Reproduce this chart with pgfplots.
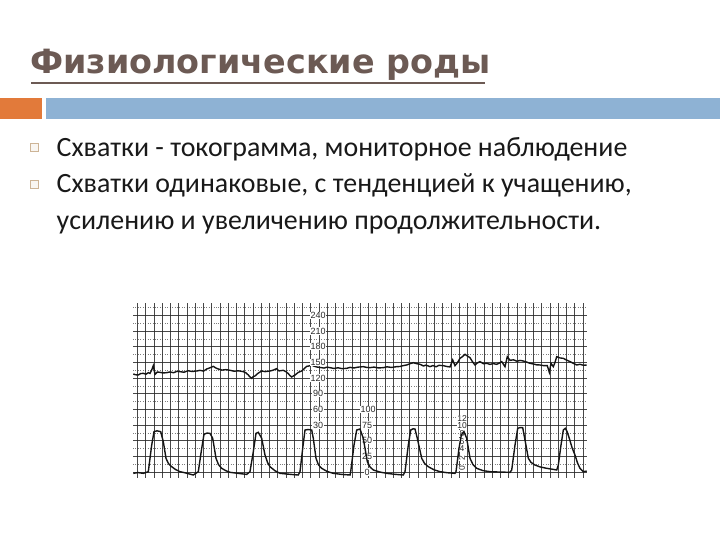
\documentclass[border=0pt]{standalone}
\usepackage{pgfplots}
\pgfplotsset{compat=1.18}
\usepackage{fontspec}
\setmainfont{Carlito}
\newfontfamily\labfont{Liberation Sans}
\newfontfamily\titlefont{DejaVu Sans}
\definecolor{titlec}{RGB}{108,90,84}
\definecolor{orangebar}{RGB}{226,122,58}
\definecolor{bluebar}{RGB}{142,178,212}
\definecolor{textc}{RGB}{25,25,25}
\definecolor{bulletc}{RGB}{205,180,150}
\definecolor{trace}{RGB}{20,20,20}
\definecolor{gridc}{RGB}{40,40,40}
\tikzset{
  lab/.style={fill=white, inner sep=0.6pt, text=gridc, font=\labfont\fontsize{9bp}{9bp}\selectfont},
  labs/.style={fill=white, inner sep=0.3pt, text=gridc, font=\labfont\fontsize{8.5bp}{8.5bp}\selectfont},
}

\pgfplotstableread{
x fhr
133.3 127.7
135.5 126.2
138.3 125.7
140.5 128.4
143.3 128.9
146.0 127.3
148.3 130.2
150.0 128.8
151.7 135.3
153.3 143.6
155.0 127.0
157.5 131.5
160.0 130.8
163.0 129.6
166.7 130.2
170.0 131.6
173.5 130.1
177.0 132.8
180.0 132.1
184.0 131.0
188.0 133.9
192.0 132.4
196.7 133.4
200.0 134.6
203.5 133.2
206.7 137.2
210.0 139.5
213.3 142.3
216.0 139.0
218.3 137.2
222.0 135.1
226.0 136.0
230.0 134.7
234.0 133.0
238.5 133.8
243.3 132.1
246.0 129.8
248.3 125.7
250.0 122.0
251.7 119.4
253.3 122.8
255.0 123.8
258.0 129.0
261.7 133.4
265.0 132.2
270.0 133.4
273.0 134.8
276.5 137.8
279.0 133.5
283.3 134.7
286.0 132.0
288.3 128.3
290.0 124.5
291.7 121.9
293.5 124.0
295.0 125.7
298.3 130.8
301.7 133.4
304.0 137.5
306.7 142.3
309.0 143.0
311.7 144.9
314.0 142.6
316.7 141.1
320.0 140.2
324.0 139.0
327.0 140.7
330.0 139.8
334.0 138.2
338.0 139.6
342.0 137.9
346.7 138.5
350.0 140.3
354.0 139.2
358.0 140.8
363.3 141.7
366.5 140.3
370.0 139.8
374.0 140.9
378.5 139.2
383.3 139.8
387.0 141.4
391.5 140.2
396.7 141.7
400.0 142.0
403.0 143.6
406.7 144.9
410.0 147.3
413.3 149.3
416.5 147.5
420.0 146.2
423.5 143.0
426.0 144.6
430.0 141.7
433.0 143.8
436.0 141.5
439.0 144.2
443.3 143.6
446.5 142.1
450.0 141.1
452.7 154.5
455.0 143.6
457.5 149.5
460.0 157.6
462.5 161.0
465.0 165.3
467.5 162.0
470.0 158.9
472.5 151.0
475.0 144.9
477.0 148.5
480.0 151.3
483.5 147.2
486.7 148.1
490.0 146.0
493.0 147.6
496.7 146.2
499.0 148.2
501.7 151.3
503.5 146.0
505.0 141.7
507.3 160.8
510.0 153.8
513.5 154.8
517.0 152.0
520.0 153.6
523.3 152.5
527.0 150.2
530.0 148.1
533.5 146.8
536.5 145.2
540.0 144.9
543.5 143.7
547.3 143.6
549.3 130.8
551.0 148.1
553.3 141.7
555.0 150.0
556.7 160.8
560.0 158.4
563.3 157.6
566.5 154.4
570.0 151.3
573.0 148.5
576.7 144.9
580.0 146.2
583.5 144.3
586.7 144.9
}\fhrdata

\pgfplotstableread{
x ua
133.3 0.0
138.0 1.2
143.3 0.0
148.3 2.6
151.7 43.9
154.0 64.6
157.0 66.0
160.7 64.6
163.3 49.1
166.0 23.3
168.5 15.0
171.7 10.3
175.5 6.0
180.0 2.6
186.0 0.5
193.3 -2.6
198.3 2.6
201.7 38.8
204.0 60.5
207.0 62.5
210.0 62.0
212.7 54.3
216.0 23.3
218.5 13.5
221.7 7.8
226.0 4.0
230.0 1.6
238.0 0.0
246.7 -1.6
250.0 2.6
253.3 33.6
256.0 62.0
258.3 63.6
261.7 54.3
265.0 28.4
267.5 17.0
270.0 10.3
275.0 4.0
280.0 0.0
290.0 -1.5
298.3 -2.6
300.0 2.6
302.7 38.8
305.0 67.2
308.0 68.0
311.7 67.2
313.3 54.3
316.0 23.3
318.5 13.0
321.7 7.8
327.0 3.0
333.3 0.0
341.0 -1.5
350.0 -2.6
350.7 2.6
354.0 43.9
356.7 67.2
360.0 68.8
363.3 54.3
367.3 18.1
370.0 10.0
373.3 5.2
380.0 2.0
386.7 0.0
395.0 -1.5
403.3 -2.6
405.0 2.6
408.3 43.9
410.7 67.2
413.0 69.0
415.0 68.8
417.3 54.3
421.7 23.3
424.5 15.5
428.3 10.3
434.0 5.5
440.0 2.6
447.0 1.0
455.0 0.0
456.0 2.6
459.0 38.8
461.3 59.5
464.0 64.6
466.7 54.3
470.0 23.3
473.0 13.5
476.7 7.8
483.0 4.2
490.0 2.6
500.0 2.0
510.0 1.6
511.7 5.2
515.0 43.9
517.7 69.8
520.0 71.0
522.7 70.8
525.3 49.1
528.3 23.3
531.0 17.0
535.0 12.9
540.0 10.0
546.7 7.8
552.0 6.5
556.7 5.2
558.3 12.9
561.0 43.9
563.3 67.2
565.3 69.8
567.0 65.0
569.3 54.3
572.0 40.0
575.0 28.4
577.5 16.0
580.0 7.8
583.3 2.6
586.7 3.6
}\uadata

\begin{document}
\begin{tikzpicture}[x=1bp,y=1bp]
\useasboundingbox[fill=white] (0,0) rectangle (720,540);
% title
\node[anchor=base west, inner sep=0pt, text=titlec, font=\titlefont\fontsize{33.4bp}{36bp}\selectfont\bfseries] at (30,466.5) {Физиологические роды};
\draw[titlec, line width=2.8bp] (31,457) -- (485,457);
% bars
\fill[orangebar] (0,421) rectangle (42,442);
\fill[bluebar] (46,421) rectangle (720,442);
% bullets
\draw[bulletc, line width=0.7bp, fill=bulletc!12] (30.2,388.3) rectangle (38.5,396.6);
\draw[bulletc, line width=0.7bp, fill=bulletc!12] (30.2,351.8) rectangle (38.5,360.1);
\begin{scope}[every node/.style={anchor=base west, inner sep=0pt, text=textc, font=\fontsize{27.9bp}{32bp}\selectfont}]
\node at (56.5,383.5) {Схватки - токограмма, мониторное наблюдение};
\node at (56.5,347) {Схватки одинаковые, с тенденцией к учащению,};
\node at (56.5,310) {усилению и увеличению продолжительности.};
\end{scope}
% CTG strip
\begin{axis}[
  at={(133bp,62bp)}, anchor=south west,
  width=454bp, height=175bp, scale only axis,
  xmin=133, xmax=587, ymin=-71.5, ymax=263.6,
  axis line style={draw=none},
  xtick={137.3,145.55,...,587}, ytick={-60,-30,...,240},
  minor ytick={-45,-15,...,255},
  xticklabels={}, yticklabels={},
  major tick length=0pt, minor tick length=0pt,
  grid=both,
  major grid style={gridc, line width=0.6bp, opacity=0.85},
  minor grid style={gridc, line width=0.45bp, dotted, opacity=0.6},
  clip=false,
]
\addplot[trace, line width=1.4bp] table[x=x,y=fhr] {\fhrdata};
\node[lab] at (axis cs:318,240) {240};
\node[lab] at (axis cs:318,210) {210};
\node[lab] at (axis cs:318,180) {180};
\node[lab] at (axis cs:318,150) {150};
\node[lab] at (axis cs:318,120) {120};
\node[lab] at (axis cs:318,90) {90};
\node[lab] at (axis cs:318,60) {60};
\node[lab] at (axis cs:318,30) {30};
\node[lab] at (axis cs:368,60) {100};
\node[lab] at (axis cs:367,30) {75};
\node[lab] at (axis cs:367,0) {50};
\node[lab] at (axis cs:367,-30) {25};
\node[lab] at (axis cs:367,-60) {0};
\node[labs] at (axis cs:462,42.8) {12};
\node[labs] at (axis cs:462,28.1) {10};
\node[labs] at (axis cs:462,14.1) {8};
\node[labs] at (axis cs:462,-1.9) {6};
\node[labs] at (axis cs:462,-15.9) {4};
\node[labs, rotate=90] at (axis cs:462,-33.8) {2};
\node[labs, rotate=90] at (axis cs:462,-52.9) {0};
\end{axis}
\begin{axis}[
  at={(133bp,62bp)}, anchor=south west,
  width=454bp, height=175bp, scale only axis,
  xmin=133, xmax=587, ymin=-7.2, ymax=264.2,
  hide axis,
]
\addplot[trace, line width=1.4bp] table[x=x,y=ua] {\uadata};
\end{axis}
\end{tikzpicture}
\end{document}
